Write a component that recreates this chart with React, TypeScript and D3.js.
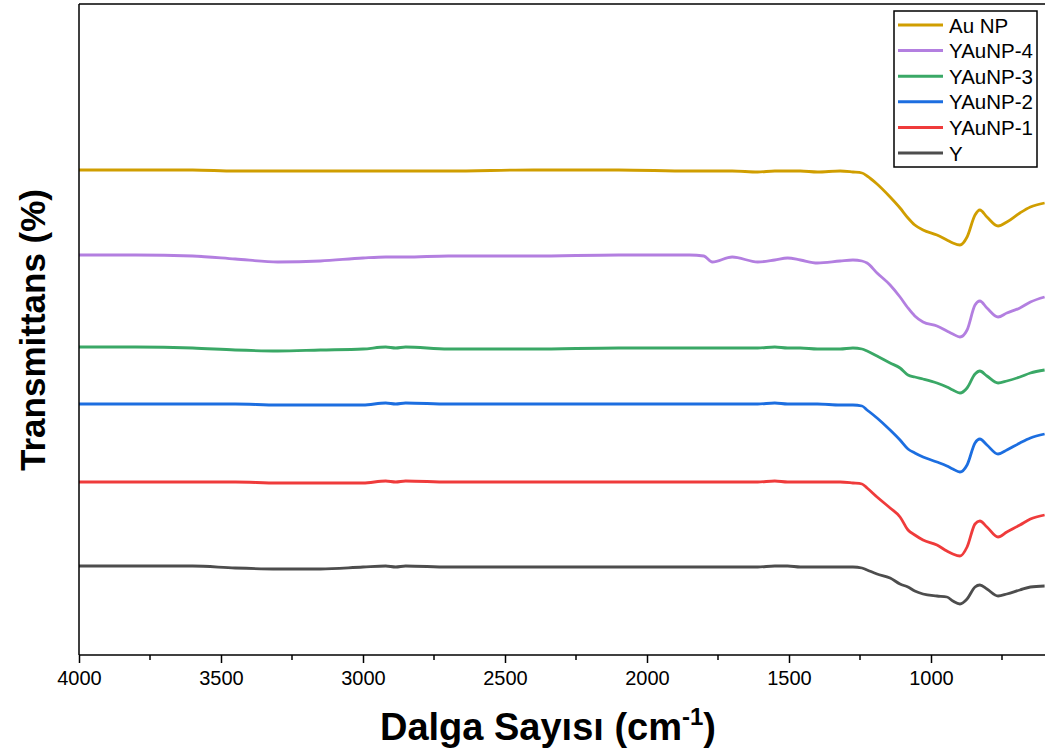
import React, { useEffect, useRef } from "react";
import * as d3 from "d3";

// wavenumbers (cm-1), shared by every spectrum
const waveNumbers = [4000, 3800, 3600, 3450, 3300, 3150, 3000, 2920, 2885, 2850, 2700, 2400, 2100, 1850, 1800, 1770, 1700, 1610, 1550, 1505, 1460, 1400, 1320, 1275, 1243, 1225, 1190, 1144, 1109, 1081, 1057, 1028, 979, 944, 923, 898, 873, 845, 828, 803, 764, 733, 687, 650, 600];

// stacked transmittance (arbitrary offset units)
const auNP = [485, 485, 485, 484, 484, 484, 484, 484, 484, 484, 484, 485, 485, 484, 484, 484, 484, 483, 484, 484, 484, 483, 484, 483, 482, 479, 471, 458, 447, 437, 430, 425, 420, 415, 412, 410, 418, 440, 445, 438, 429, 433, 442, 448, 452];
const yaunp4 = [400, 400, 399, 396, 393, 394, 397, 398, 398, 398, 399, 399, 400, 400, 399, 393, 398, 393, 395, 397, 395, 392, 394, 395, 394, 392, 382, 370, 358, 347, 339, 333, 329, 324, 321, 318, 325, 350, 354, 347, 338, 342, 347, 353, 358];
const yaunp3 = [308, 308, 307, 305, 304, 305, 306, 308, 307, 308, 306, 306, 307, 307, 307, 307, 307, 307, 308, 307, 307, 306, 306, 307, 306, 304, 299, 292, 287, 280, 278, 276, 272, 268, 265, 262, 267, 281, 284, 279, 272, 274, 278, 282, 285];
const yaunp2 = [251, 251, 251, 251, 250, 250, 250, 252, 251, 252, 251, 251, 251, 251, 251, 251, 251, 251, 252, 251, 251, 251, 250, 250, 249, 245, 237, 225, 215, 206, 202, 198, 193, 189, 186, 183, 190, 212, 216, 210, 201, 205, 212, 217, 221];
const yaunp1 = [173, 173, 173, 173, 172, 172, 172, 174, 173, 174, 173, 173, 173, 173, 173, 173, 173, 173, 174, 173, 173, 173, 173, 172, 171, 167, 158, 147, 138, 125, 120, 115, 110, 104, 101, 99, 108, 131, 134, 128, 118, 123, 130, 136, 140];
const ySample = [89, 89, 89, 87, 86, 86, 88, 89, 88, 89, 88, 88, 88, 88, 88, 88, 88, 88, 89, 89, 88, 88, 88, 88, 87, 85, 81, 77, 71, 68, 64, 61, 59, 58, 54, 51, 56, 68, 70, 66, 59, 61, 65, 68, 69];

const seriesNames = ["Au NP", "YAuNP-4", "YAuNP-3", "YAuNP-2", "YAuNP-1", "Y"];
const seriesValues = [auNP, yaunp4, yaunp3, yaunp2, yaunp1, ySample];
const seriesColors = ["#D09E00", "#B37FE0", "#3AA866", "#1C6EE0", "#EF3B3B", "#4D4D4D"];

const xTicks = [4000, 3500, 3000, 2500, 2000, 1500, 1000];
const xMinorTicks = [3750, 3250, 2750, 2250, 1750, 1250, 750];

const W = 1045;
const H = 751;

const App = () => {
  const svgRef = useRef<SVGSVGElement>(null);

  useEffect(() => {
    const svg = d3.select(svgRef.current);
    svg.selectAll("*").remove();

    const left = 79, top = 4, bottom = 655;

    // scales
    const xScale = d3.scaleLinear().domain([4000, 400]).range([left, left + 3600 * 0.284]);
    const yScale = d3.scaleLinear().domain([0, 651]).range([bottom, top]);

    const line = d3
      .line<number>()
      .x((d, i) => xScale(waveNumbers[i]))
      .y((d) => yScale(d))
      .curve(d3.curveMonotoneX);

    // spectra
    svg
      .append("g")
      .selectAll("path")
      .data(seriesValues)
      .join("path")
      .attr("d", (d) => line(d))
      .attr("fill", "none")
      .attr("stroke", (d, i) => seriesColors[i])
      .attr("stroke-width", 2.8)
      .attr("stroke-linejoin", "round");

    // frame
    svg.append("line")
      .attr("x1", left).attr("x2", W).attr("y1", top).attr("y2", top)
      .attr("stroke", "#000").attr("stroke-width", 1.5);
    svg.append("line")
      .attr("x1", left).attr("x2", left).attr("y1", top).attr("y2", bottom)
      .attr("stroke", "#000").attr("stroke-width", 1.5);

    // x axis
    const xAxis = d3.axisBottom(xScale).tickValues(xTicks).tickSize(8).tickSizeOuter(0).tickPadding(8).tickFormat(d3.format("d"));
    const gx = svg.append("g").attr("transform", `translate(0, ${bottom})`).call(xAxis);
    gx.select(".domain").attr("d", `M${left},0H${W}`).attr("stroke-width", 1.5);
    gx.selectAll(".tick line").attr("stroke-width", 1.5);
    gx.selectAll(".tick text")
      .attr("font-family", "Liberation Sans, Arial, sans-serif")
      .attr("font-size", 20)
      .attr("fill", "#000");

    svg.append("g")
      .selectAll("line")
      .data(xMinorTicks)
      .join("line")
      .attr("x1", (d) => xScale(d)).attr("x2", (d) => xScale(d))
      .attr("y1", bottom).attr("y2", bottom + 5)
      .attr("stroke", "#000").attr("stroke-width", 1.5);

    // axis titles
    const xTitle = svg.append("text")
      .attr("x", 548).attr("y", 740)
      .attr("text-anchor", "middle")
      .attr("font-family", "Liberation Sans, Arial, sans-serif")
      .attr("font-weight", "bold")
      .attr("font-size", 38);
    xTitle.append("tspan").text("Dalga Sayısı (cm");
    xTitle.append("tspan").attr("dy", -15).attr("font-size", 24).text("-1");
    xTitle.append("tspan").attr("dy", 15).text(")");

    svg.append("text")
      .attr("transform", "translate(45, 330) rotate(-90)")
      .attr("text-anchor", "middle")
      .attr("font-family", "Liberation Sans, Arial, sans-serif")
      .attr("font-weight", "bold")
      .attr("font-size", 35)
      .text("Transmittans (%)");

    // legend
    const legend = svg.append("g");
    legend.append("rect")
      .attr("x", 894).attr("y", 11).attr("width", 143).attr("height", 156)
      .attr("fill", "#fff").attr("stroke", "#000").attr("stroke-width", 1.5);
    const items = legend.selectAll("g.item")
      .data(seriesNames)
      .join("g")
      .attr("class", "item")
      .attr("transform", (d, i) => `translate(0, ${25 + i * 25.6})`);
    items.append("line")
      .attr("x1", 898).attr("x2", 943)
      .attr("stroke", (d, i) => seriesColors[i])
      .attr("stroke-width", 3);
    items.append("text")
      .attr("x", 949).attr("y", 7.5)
      .attr("font-family", "Liberation Sans, Arial, sans-serif")
      .attr("font-size", 20.5)
      .text((d) => d);
  }, []);

  return (
    <div style={{ position: "absolute", left: 0, top: 0 }}>
      <svg ref={svgRef} width={W} height={H} style={{ display: "block" }} />
    </div>
  );
};

export default App;
